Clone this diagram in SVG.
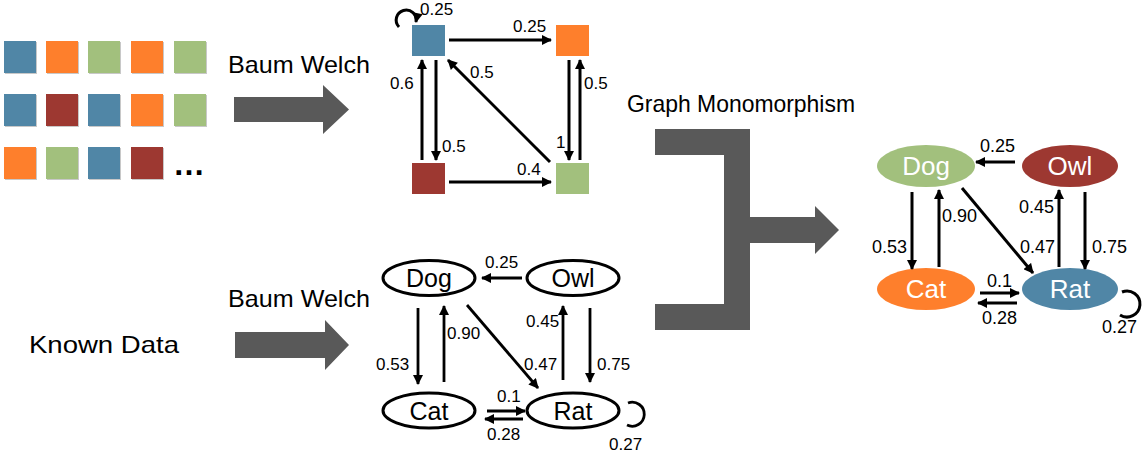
<svg xmlns="http://www.w3.org/2000/svg" width="1143" height="453" viewBox="0 0 1143 453">
<style>
text{font-family:"Liberation Sans",Arial,sans-serif;fill:#000}
.big{font-size:24px}
.lbl{font-size:17px}
.lbl2{font-size:18px}
.nl{font-size:25px;text-anchor:middle}
.nr{font-size:26px;text-anchor:middle;fill:#fff}
.e{fill:#fff;stroke:#000;stroke-width:3}
.c3{stroke:#000;stroke-width:3;fill:none}
.c2{stroke:#000;stroke-width:2.8;fill:none}
.gray{fill:#595959}
.B{fill:#5086A6}.O{fill:#FE7F2C}.G{fill:#A2C07D}.R{fill:#9D3831}
.sh{fill:#c8c8c8}
</style>
<defs>
<marker id="ah" viewBox="0 0 10 10" refX="9" refY="5" markerWidth="11" markerHeight="10" markerUnits="userSpaceOnUse" orient="auto">
<path d="M0,0 L10,5 L0,10 Z" fill="#000"/>
</marker>
</defs>

<g id="sequences">
<rect class="sh" x="5" y="42" width="32" height="32"/><rect class="B" x="4" y="41" width="32" height="32"/>
<rect class="sh" x="47" y="42" width="32" height="32"/><rect class="O" x="46" y="41" width="32" height="32"/>
<rect class="sh" x="89" y="42" width="32" height="32"/><rect class="G" x="88" y="41" width="32" height="32"/>
<rect class="sh" x="132" y="42" width="32" height="32"/><rect class="O" x="131" y="41" width="32" height="32"/>
<rect class="sh" x="175" y="42" width="32" height="32"/><rect class="G" x="174" y="41" width="32" height="32"/>
<rect class="sh" x="5" y="95" width="32" height="32"/><rect class="B" x="4" y="94" width="32" height="32"/>
<rect class="sh" x="47" y="95" width="32" height="32"/><rect class="R" x="46" y="94" width="32" height="32"/>
<rect class="sh" x="89" y="95" width="32" height="32"/><rect class="B" x="88" y="94" width="32" height="32"/>
<rect class="sh" x="132" y="95" width="32" height="32"/><rect class="O" x="131" y="94" width="32" height="32"/>
<rect class="sh" x="175" y="95" width="32" height="32"/><rect class="G" x="174" y="94" width="32" height="32"/>
<rect class="sh" x="5" y="148" width="32" height="32"/><rect class="O" x="4" y="147" width="32" height="32"/>
<rect class="sh" x="47" y="148" width="32" height="32"/><rect class="G" x="46" y="147" width="32" height="32"/>
<rect class="sh" x="89" y="148" width="32" height="32"/><rect class="B" x="88" y="147" width="32" height="32"/>
<rect class="sh" x="132" y="148" width="32" height="32"/><rect class="R" x="131" y="147" width="32" height="32"/>
<text x="173" y="175" style="font-size:32px;font-weight:bold">…</text>
</g>

<g id="labels">
<text class="big" x="228" y="73" textLength="142" lengthAdjust="spacingAndGlyphs">Baum Welch</text>
<text class="big" x="228" y="307" textLength="142" lengthAdjust="spacingAndGlyphs">Baum Welch</text>
<text class="big" x="29" y="353" textLength="150" lengthAdjust="spacingAndGlyphs">Known Data</text>
<text x="627" y="112" style="font-size:24px" textLength="228" lengthAdjust="spacingAndGlyphs">Graph Monomorphism</text>
</g>

<g id="big-arrows">
<polygon class="gray" points="234,97 323,97 323,85 349,109.5 323,134 323,122 234,122"/>
<polygon class="gray" points="235,332 325,332 325,320 349,345 325,370 325,358 235,358"/>
<polygon class="gray" points="655,129 750,129 750,217 815,217 815,206 839,230 815,254 815,243 750,243 750,330 655,330 655,304 724,304 724,155 655,155"/>
</g>

<g id="hmm-states">
<rect class="B" x="412" y="25" width="33" height="31"/>
<rect class="O" x="556" y="25" width="33" height="31"/>
<rect class="R" x="412" y="163" width="33" height="31"/>
<rect class="G" x="556" y="163" width="33" height="31"/>
</g>

<g id="hmm-connectors">
<path class="c3" d="M399,27 A10,10 0 1 1 416,22" marker-end="url(#ah)"/>
<line class="c3" x1="449" y1="40" x2="551" y2="40" marker-end="url(#ah)"/>
<line class="c3" x1="422" y1="160" x2="422" y2="60" marker-end="url(#ah)"/>
<line class="c3" x1="436" y1="60" x2="436" y2="160" marker-end="url(#ah)"/>
<line class="c3" x1="550" y1="162" x2="448" y2="60" marker-end="url(#ah)"/>
<line class="c3" x1="569" y1="60" x2="569" y2="160" marker-end="url(#ah)"/>
<line class="c3" x1="580" y1="160" x2="580" y2="60" marker-end="url(#ah)"/>
<line class="c3" x1="449" y1="182" x2="551" y2="182" marker-end="url(#ah)"/>
</g>
<g id="hmm-labels">
<text class="lbl" x="420" y="15">0.25</text>
<text class="lbl" x="513" y="32">0.25</text>
<text class="lbl" x="390" y="89">0.6</text>
<text class="lbl" x="442" y="152">0.5</text>
<text class="lbl" x="470" y="78">0.5</text>
<text class="lbl" x="584" y="89">0.5</text>
<text class="lbl" x="556" y="148">1</text>
<text class="lbl" x="517" y="175">0.4</text>
</g>

<g id="known-dog"><ellipse class="e" cx="429" cy="278" rx="46" ry="17.5"/><text class="nl" x="429" y="287">Dog</text></g>
<g id="known-owl"><ellipse class="e" cx="573" cy="278" rx="46" ry="17.5"/><text class="nl" x="573" y="287">Owl</text></g>
<g id="known-cat"><ellipse class="e" cx="429" cy="410.5" rx="46" ry="17.5"/><text class="nl" x="429" y="419.5">Cat</text></g>
<g id="known-rat"><ellipse class="e" cx="573" cy="410.5" rx="46" ry="17.5"/><text class="nl" x="573" y="419.5">Rat</text></g>

<g id="known-connectors">
<line class="c2" x1="522" y1="278" x2="482" y2="278" marker-end="url(#ah)"/>
<line class="c2" x1="418" y1="308" x2="418" y2="384" marker-end="url(#ah)"/>
<line class="c2" x1="444" y1="382" x2="444" y2="306" marker-end="url(#ah)"/>
<line class="c2" x1="467" y1="305" x2="538" y2="388" marker-end="url(#ah)"/>
<line class="c2" x1="563" y1="380" x2="563" y2="306" marker-end="url(#ah)"/>
<line class="c2" x1="590" y1="308" x2="590" y2="382" marker-end="url(#ah)"/>
<line class="c2" x1="487" y1="411" x2="525" y2="411" marker-end="url(#ah)"/>
<line class="c2" x1="523" y1="419" x2="485" y2="419" marker-end="url(#ah)"/>
<path class="c2" d="M628,403 A12,12 0 1 1 627,425"/>
</g>
<g id="known-labels">
<text class="lbl" x="485" y="268">0.25</text>
<text class="lbl" x="376" y="370">0.53</text>
<text class="lbl" x="447" y="339">0.90</text>
<text class="lbl" x="524" y="370">0.47</text>
<text class="lbl" x="526" y="327">0.45</text>
<text class="lbl" x="597" y="370">0.75</text>
<text class="lbl" x="497" y="402">0.1</text>
<text class="lbl" x="487" y="440">0.28</text>
<text class="lbl" x="609" y="450">0.27</text>
</g>

<g id="result-dog"><ellipse class="G" cx="926" cy="166" rx="49" ry="21"/><text class="nr" x="926" y="175">Dog</text></g>
<g id="result-owl"><ellipse class="R" cx="1070" cy="166" rx="48" ry="21"/><text class="nr" x="1070" y="175">Owl</text></g>
<g id="result-cat"><ellipse class="O" cx="926" cy="289" rx="49" ry="21"/><text class="nr" x="926" y="298">Cat</text></g>
<g id="result-rat"><ellipse class="B" cx="1070" cy="289" rx="48" ry="21"/><text class="nr" x="1070" y="298">Rat</text></g>

<g id="result-connectors">
<line class="c3" x1="1015" y1="162" x2="976" y2="162" marker-end="url(#ah)"/>
<line class="c3" x1="912" y1="192" x2="912" y2="269" marker-end="url(#ah)"/>
<line class="c3" x1="939" y1="267" x2="939" y2="190" marker-end="url(#ah)"/>
<line class="c3" x1="962" y1="188" x2="1033" y2="273" marker-end="url(#ah)"/>
<line class="c3" x1="1059" y1="267" x2="1059" y2="190" marker-end="url(#ah)"/>
<line class="c3" x1="1085" y1="192" x2="1085" y2="269" marker-end="url(#ah)"/>
<line class="c3" x1="980" y1="293" x2="1019" y2="293" marker-end="url(#ah)"/>
<line class="c3" x1="1017" y1="303" x2="978" y2="303" marker-end="url(#ah)"/>
<path class="c3" d="M1122,292 A13,13 0 1 1 1120,315"/>
</g>
<g id="result-labels">
<text class="lbl2" x="980" y="152">0.25</text>
<text class="lbl2" x="872" y="253">0.53</text>
<text class="lbl2" x="942" y="222">0.90</text>
<text class="lbl2" x="1020" y="253">0.47</text>
<text class="lbl2" x="1019" y="213">0.45</text>
<text class="lbl2" x="1092" y="253">0.75</text>
<text class="lbl2" x="987" y="287">0.1</text>
<text class="lbl2" x="982" y="324">0.28</text>
<text class="lbl2" x="1102" y="333">0.27</text>
</g>
</svg>
